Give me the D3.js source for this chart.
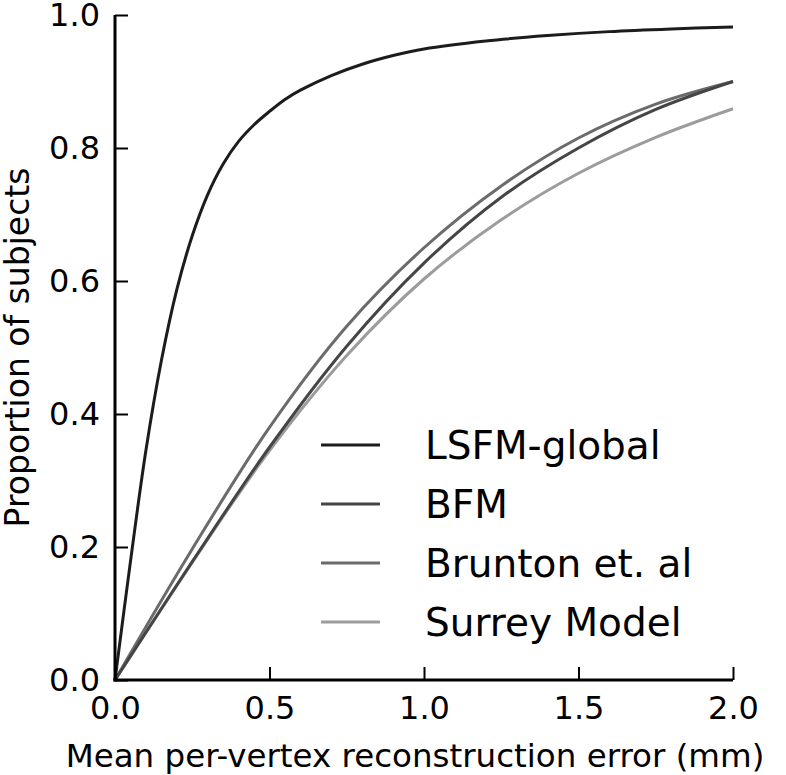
<!DOCTYPE html>
<html>
<head>
<meta charset="utf-8">
<script src="https://cdn.jsdelivr.net/npm/d3@7"></script>
<style>
  html, body { margin: 0; padding: 0; background: #fff; }
  svg { display: block; }
  text { font-family: "DejaVu Sans", sans-serif; fill: #000; }
</style>
</head>
<body>
<svg id="chart" width="786" height="775"></svg>
<script>
// ---- data ----
const seriesNames = ["LSFM-global", "BFM", "Brunton et. al", "Surrey Model"];
const seriesColors = ["#1c1c1c", "#454545", "#6b6b6b", "#9c9c9c"];

const lsfmX = [0, 0.05, 0.1, 0.15, 0.2, 0.25, 0.3, 0.35, 0.4, 0.45, 0.5, 0.55, 0.6, 0.7, 0.8, 0.9, 1.0, 1.2, 1.4, 1.6, 1.8, 2.0];
const lsfmY = [0, 0.178, 0.345, 0.48, 0.587, 0.668, 0.73, 0.776, 0.81, 0.835, 0.855, 0.873, 0.887, 0.909, 0.926, 0.939, 0.949, 0.961, 0.969, 0.975, 0.979, 0.982];

const otherX = [0, 0.25, 0.5, 0.75, 1.0, 1.25, 1.5, 1.75, 2.0];
const bfmY = [0, 0.178, 0.35, 0.502, 0.627, 0.726, 0.8, 0.858, 0.900];
const bruntonY = [0, 0.197, 0.38, 0.532, 0.65, 0.743, 0.815, 0.866, 0.900];
const surreyY = [0, 0.177, 0.345, 0.488, 0.603, 0.692, 0.762, 0.816, 0.859];

const xTicks = [0, 0.5, 1.0, 1.5, 2.0];
const yTicks = [0, 0.2, 0.4, 0.6, 0.8, 1.0];
const xLabel = "Mean per-vertex reconstruction error (mm)";
const yLabel = "Proportion of subjects";

// ---- layout ----
const svg = d3.select("#chart");
const mLeft = 115, mRight = 733, mTop = 15, mBottom = 680;
const x = d3.scaleLinear().domain([0, 2]).range([mLeft, mRight]);
const y = d3.scaleLinear().domain([0, 1]).range([mBottom, mTop]);

const series = [
  { name: seriesNames[0], color: seriesColors[0], pts: lsfmX.map((v, i) => [v, lsfmY[i]]) },
  { name: seriesNames[1], color: seriesColors[1], pts: otherX.map((v, i) => [v, bfmY[i]]) },
  { name: seriesNames[2], color: seriesColors[2], pts: otherX.map((v, i) => [v, bruntonY[i]]) },
  { name: seriesNames[3], color: seriesColors[3], pts: otherX.map((v, i) => [v, surreyY[i]]) }
];

const line = d3.line().x(d => x(d[0])).y(d => y(d[1])).curve(d3.curveCatmullRom.alpha(0.5));

svg.append("g").selectAll("path")
  .data(series.slice().reverse())
  .join("path")
  .attr("d", d => line(d.pts))
  .attr("fill", "none")
  .attr("stroke", d => d.color)
  .attr("stroke-width", 3);

// axes
const xAxis = d3.axisBottom(x).tickValues(xTicks).tickFormat(d3.format(".1f")).tickSizeInner(-13).tickSizeOuter(0).tickPadding(16);
const yAxis = d3.axisLeft(y).tickValues(yTicks).tickFormat(d3.format(".1f")).tickSizeInner(-13).tickSizeOuter(0).tickPadding(15);

const gx = svg.append("g").attr("transform", `translate(0,${mBottom})`).call(xAxis);
const gy = svg.append("g").attr("transform", `translate(${mLeft},0)`).call(yAxis);

[gx, gy].forEach(g => {
  g.select(".domain").attr("stroke", "#000").attr("stroke-width", 3);
  g.selectAll(".tick line").attr("stroke", "#000").attr("stroke-width", 2);
  g.selectAll(".tick text").attr("font-size", 32).attr("font-family", "DejaVu Sans").attr("fill", "#000");
});
gx.select(".domain").attr("d", `M${mLeft - 1.5},0H${mRight}`);
gy.select(".domain").attr("d", `M0,${mTop}V${mBottom + 1.5}`);

// axis labels
svg.append("text")
  .attr("x", (mLeft + mRight) / 2 - 9).attr("y", 767)
  .attr("text-anchor", "middle").attr("font-size", 32.5)
  .text(xLabel);

svg.append("text")
  .attr("transform", `translate(29,${(mTop + mBottom) / 2}) rotate(-90)`)
  .attr("text-anchor", "middle").attr("font-size", 33)
  .text(yLabel);

// legend
const legY = [445, 504, 563, 622];
const leg = svg.append("g");
series.forEach((s, i) => {
  leg.append("line")
    .attr("x1", 321).attr("x2", 380)
    .attr("y1", legY[i]).attr("y2", legY[i])
    .attr("stroke", s.color).attr("stroke-width", 3);
  leg.append("text")
    .attr("x", 425).attr("y", legY[i])
    .attr("dy", "0.36em")
    .attr("font-size", 39)
    .text(s.name);
});
</script>
</body>
</html>
